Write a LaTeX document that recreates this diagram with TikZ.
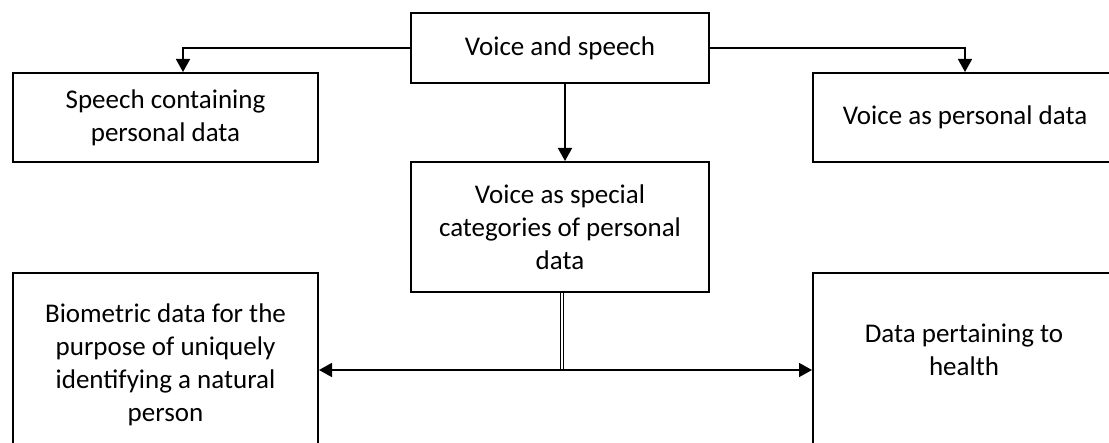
\documentclass[tikz,border=0pt]{standalone}
\usepackage{fontspec}
\setmainfont{Carlito}
\usetikzlibrary{arrows.meta}
\begin{document}
\begin{tikzpicture}[x=0.5pt,y=-0.5pt,
  box/.style={draw=black, line width=1pt, rectangle, inner sep=0pt, anchor=north west,
    align=center, font=\fontsize{13.5}{16.5}\selectfont},
  lbl/.style={inner sep=0pt, align=center, font=\fontsize{13.5}{16.5}\selectfont},
  arr/.style={draw=black, line width=0.8pt, -{Triangle[length=6.5pt,width=7pt]}},
  dbl/.style={draw=black, line width=0.5pt, double, double distance=1pt}]
\clip (0,0) rectangle (1109,443);
\fill[white] (0,0) rectangle (1109,443);
% boxes
\node[box, minimum width=149pt, minimum height=35pt] (vs) at (410,12) {Voice and speech};
\node[box, minimum width=152.5pt, minimum height=44.5pt] (spd) at (12,72) {Speech containing\\personal data};
\node[box, minimum width=152pt, minimum height=44.5pt] (vpd) at (812,72) {Voice as personal data};
\node[box, minimum width=149pt, minimum height=65pt] (vsc) at (410,161) {Voice as special\\categories of personal\\data};
\node[box, minimum width=152.5pt, minimum height=92pt] (bio) at (12,272) {Biometric data for the\\purpose of uniquely\\identifying a natural\\person};
\node[box, minimum width=152pt, minimum height=92pt] (hb) at (812,272) {};
\node[lbl] (ht) at (964,350) {Data pertaining to\\health};
% connectors
\draw[arr] (vs.west) -| ([xshift=8.75pt]spd.north);
\draw[arr] (vs.east) -| (vpd.north);
\draw[arr] ([xshift=2.5pt]vs.south) -- ([xshift=2.5pt]vsc.south |- vsc.north);
\coordinate (j) at (562,370);
\draw[dbl] (vsc.south -| j) -- (j);
\draw[arr] (j) -- (bio.east |- j);
\draw[arr] (j) -- (hb.west |- j);
\end{tikzpicture}
\end{document}
